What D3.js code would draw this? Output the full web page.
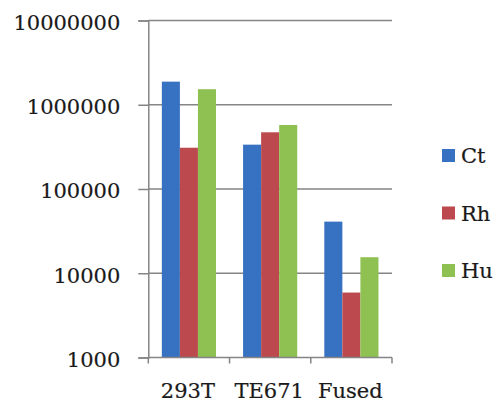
<!DOCTYPE html>
<html>
<head>
<meta charset="utf-8">
<script src="https://cdn.jsdelivr.net/npm/d3@7/dist/d3.min.js"></script>
<style>
  html, body { margin: 0; padding: 0; background: #ffffff; }
  svg { display: block; }
  text { font-family: "DejaVu Serif", "Liberation Serif", serif; fill: #1a1a1a; stroke: #1a1a1a; stroke-width: 0.2px; }
</style>
</head>
<body>
<script>
// Cell lines on the x axis
const categories = ["293T", "TE671", "Fused"];
// Series names, in legend order
const seriesNames = ["Ct", "Rh", "Hu"];
// Values per series, one per cell line
const ctValues = [1880000, 336000, 41000];
const rhValues = [309000, 471000, 5900];
const huValues = [1530000, 575000, 15500];
// Log axis ticks
const yTicks = [1000, 10000, 100000, 1000000, 10000000];
const seriesColors = ["#3771c2", "#bc494e", "#8fc152"];

const values = { Ct: ctValues, Rh: rhValues, Hu: huValues };
const W = 499, H = 402;
const plot = { left: 148.3, right: 392, top: 20.5, bottom: 357.5 };

const svg = d3.select("body").append("svg").attr("width", W).attr("height", H);

const y = d3.scaleLog().domain([1000, 10000000]).range([plot.bottom, plot.top]);
const x = d3.scaleBand().domain(categories).range([plot.left, plot.right]).padding(0);
const x1 = d3.scaleBand().domain(seriesNames).range([0, x.bandwidth()])
  .paddingInner(0).paddingOuter(0.75);

const gridColor = "#858585";

// Horizontal gridlines
svg.append("g").selectAll("line").data(yTicks.filter(t => t > 1000)).join("line")
  .attr("x1", plot.left).attr("x2", plot.right)
  .attr("y1", d => y(d)).attr("y2", d => y(d))
  .attr("stroke", gridColor).attr("stroke-width", 1.5);

// Bars
const groups = svg.append("g").selectAll("g").data(categories).join("g")
  .attr("transform", d => `translate(${x(d)},0)`);
groups.selectAll("rect")
  .data((c, i) => seriesNames.map((s, k) => ({ s, k, v: values[s][i] })))
  .join("rect")
  .attr("x", d => x1(d.s))
  .attr("width", x1.bandwidth())
  .attr("y", d => y(d.v))
  .attr("height", d => y(1000) - y(d.v))
  .attr("fill", d => seriesColors[d.k]);

// Y axis
const yAxis = d3.axisLeft(y).tickValues(yTicks).tickFormat(d3.format("d"))
  .tickSize(10).tickPadding(18);
const gy = svg.append("g").attr("transform", `translate(${plot.left},0)`).call(yAxis);
gy.select(".domain").attr("stroke", gridColor).attr("stroke-width", 1.5);
gy.selectAll(".tick line").attr("stroke", gridColor).attr("stroke-width", 1.5);
gy.selectAll(".tick text").attr("font-size", 21).attr("dy", "0.42em")
  .attr("font-family", "DejaVu Serif").attr("fill", "#1a1a1a");

// X axis with ticks at category boundaries
const gx = svg.append("g").attr("transform", `translate(0,${plot.bottom})`);
gx.append("line").attr("x1", plot.left).attr("x2", plot.right)
  .attr("stroke", gridColor).attr("stroke-width", 1.5);
const bounds = categories.map(c => x(c)).concat([x(categories[categories.length - 1]) + x.bandwidth()]);
gx.selectAll("line.tk").data(bounds).join("line").attr("class", "tk")
  .attr("x1", d => d).attr("x2", d => d).attr("y1", 0).attr("y2", 6)
  .attr("stroke", gridColor).attr("stroke-width", 1.5);
gx.selectAll("text").data(categories).join("text")
  .attr("x", d => x(d) + x.bandwidth() / 2 - 1)
  .attr("y", 40)
  .attr("text-anchor", "middle")
  .attr("font-size", 21)
  .text(d => d);

// Legend
const legend = svg.append("g").selectAll("g").data(seriesNames).join("g")
  .attr("transform", (d, i) => `translate(442,${155.5 + i * 57.5})`);
legend.append("rect").attr("x", 0).attr("y", -6.5).attr("width", 13).attr("height", 13)
  .attr("fill", (d, i) => seriesColors[i]);
legend.append("text").attr("x", 19).attr("y", 0).attr("dy", "0.37em")
  .attr("font-size", 21).text(d => d);
</script>
</body>
</html>
